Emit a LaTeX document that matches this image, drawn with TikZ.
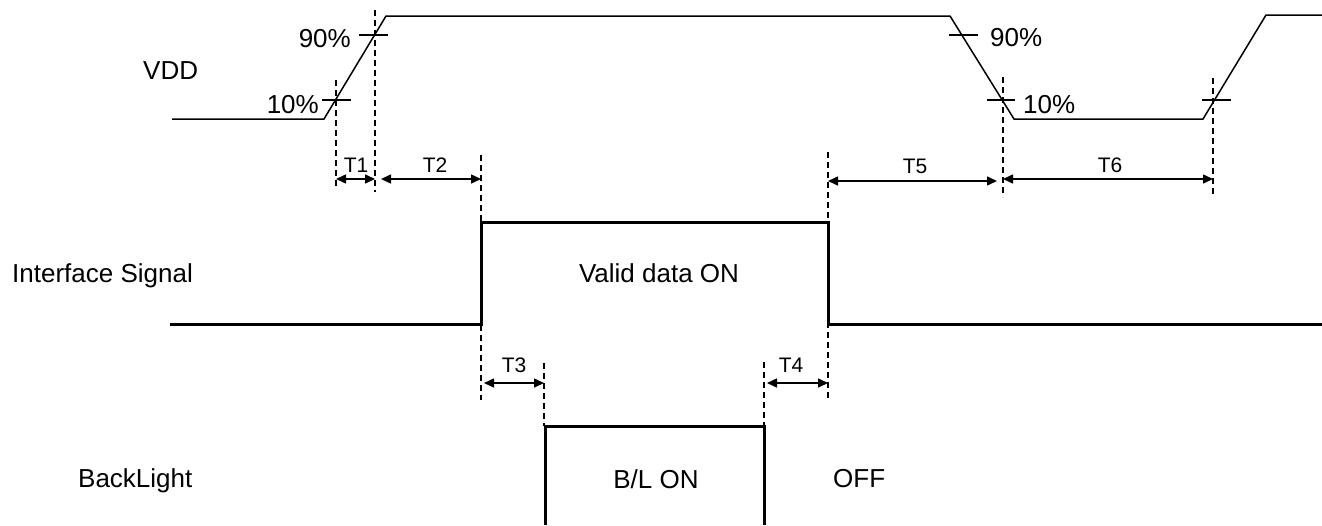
\documentclass[tikz,border=0pt]{standalone}
\usepackage{fontspec}
\setmainfont{Liberation Sans}
\usetikzlibrary{arrows.meta}
\tikzstyle{lbl} = [font=\fontsize{26}{30}\selectfont, inner sep=0pt]
\tikzstyle{tlbl} = [font=\fontsize{21}{25}\selectfont, inner sep=0pt, anchor=base]
\tikzstyle{guide} = [-, line width=1.5pt, dash pattern=on 6pt off 4pt]
\tikzstyle{wave} = [-, line width=1.5pt]
\tikzstyle{sig} = [-, line width=3pt]
\tikzstyle{dim} = [<->, line width=1.5pt]

\begin{document}
\begin{tikzpicture}[x=1pt,y=-1pt,>={Triangle[length=10pt,width=9pt]}]
  \useasboundingbox (0,0) rectangle (1322,525);

  % VDD corners
  \coordinate (v0) at (172,119);
  \coordinate (v1) at (324,119);
  \coordinate (v2) at (386,16);
  \coordinate (v3) at (950,16);
  \coordinate (v4) at (1014,119);
  \coordinate (v5) at (1203,119);
  \coordinate (v6) at (1266,15);
  \coordinate (v7) at (1322,15);
  % interface signal corners
  \coordinate (s0) at (170,324);
  \coordinate (s1) at (481,324);
  \coordinate (s2) at (481,222);
  \coordinate (s3) at (828,222);
  \coordinate (s4) at (828,324);
  \coordinate (s5) at (1322,324);
  % backlight corners
  \coordinate (b0) at (545,525);
  \coordinate (b1) at (545,426);
  \coordinate (b2) at (764,426);
  \coordinate (b3) at (764,525);

  % guide lines
  \coordinate (g1a) at (336,80);   \coordinate (g1b) at (336,186);
  \coordinate (g2a) at (375,10);   \coordinate (g2b) at (375,192);
  \coordinate (g3a) at (481,155);  \coordinate (g3b) at (481,400);
  \coordinate (g4a) at (828,152);  \coordinate (g4b) at (828,398);
  \coordinate (g5a) at (544,363);  \coordinate (g5b) at (544,426);
  \coordinate (g6a) at (764,362);  \coordinate (g6b) at (764,426);
  \coordinate (g7a) at (1003,77);  \coordinate (g7b) at (1003,197);
  \coordinate (g8a) at (1213,78);  \coordinate (g8b) at (1213,197);
  \draw[guide] (g1a) -- (g1b);
  \draw[guide] (g2a) -- (g2b);
  \draw[guide] (g3a) -- (g3b);
  \draw[guide] (g4a) -- (g4b);
  \draw[guide] (g5a) -- (g5b);
  \draw[guide] (g6a) -- (g6b);
  \draw[guide] (g7a) -- (g7b);
  \draw[guide] (g8a) -- (g8b);

  % waveforms
  \draw[wave] (v0) -- (v1) -- (v2) -- (v3) -- (v4) -- (v5) -- (v6) -- (v7);
  \draw[sig] (s0) -- (s1) -- (s2) -- (s3) -- (s4) -- (s5);
  \draw[sig] (b0) -- (b1) -- (b2) -- (b3);

  % 10% / 90% ticks
  \coordinate (k1a) at (322,100);  \coordinate (k1b) at (351,100);
  \coordinate (k2a) at (359,35);   \coordinate (k2b) at (388,35);
  \coordinate (k3a) at (949,35);   \coordinate (k3b) at (978,35);
  \coordinate (k4a) at (987,100);  \coordinate (k4b) at (1015,100);
  \coordinate (k5a) at (1202,100); \coordinate (k5b) at (1231,100);
  \draw[wave] (k1a) -- (k1b);
  \draw[wave] (k2a) -- (k2b);
  \draw[wave] (k3a) -- (k3b);
  \draw[wave] (k4a) -- (k4b);
  \draw[wave] (k5a) -- (k5b);

  % timing arrows
  \coordinate (t1a) at (336,179);  \coordinate (t1b) at (375,179);
  \coordinate (t2a) at (381,179);  \coordinate (t2b) at (481,179);
  \coordinate (t3a) at (484,383);  \coordinate (t3b) at (544,383);
  \coordinate (t4a) at (767,383);  \coordinate (t4b) at (828,383);
  \coordinate (t5a) at (828,181);  \coordinate (t5b) at (997,181);
  \coordinate (t6a) at (1003,179); \coordinate (t6b) at (1213,179);
  \draw[dim] (t1a) -- (t1b);
  \draw[dim] (t2a) -- (t2b);
  \draw[dim] (t3a) -- (t3b);
  \draw[dim] (t4a) -- (t4b);
  \draw[dim] (t5a) -- (t5b);
  \draw[dim] (t6a) -- (t6b);

  % labels
  \node[lbl, anchor=base west] (vdd) at (143,79) {VDD};
  \node[lbl, anchor=base west] (ifs) at (12,282) {Interface Signal};
  \node[lbl, anchor=base west] (bl) at (78,487) {BackLight};
  \node[lbl, anchor=base] (valid) at (659,282) {Valid data ON};
  \node[lbl, anchor=base] (blon) at (656,488) {B/L ON};
  \node[lbl, anchor=base west] (off) at (833,487) {OFF};
  \node[lbl, anchor=base east] (p90a) at (351,47) {90\%};
  \node[lbl, anchor=base east] (p10a) at (319,113) {10\%};
  \node[lbl, anchor=base west] (p90b) at (990,46) {90\%};
  \node[lbl, anchor=base west] (p10b) at (1023,113) {10\%};
  \node[tlbl] (T1) at (356,172) {T1};
  \node[tlbl] (T2) at (435,172) {T2};
  \node[tlbl] (T3) at (514,372) {T3};
  \node[tlbl] (T4) at (791,372) {T4};
  \node[tlbl] (T5) at (915,173) {T5};
  \node[tlbl] (T6) at (1110,172) {T6};
\end{tikzpicture}
\end{document}
